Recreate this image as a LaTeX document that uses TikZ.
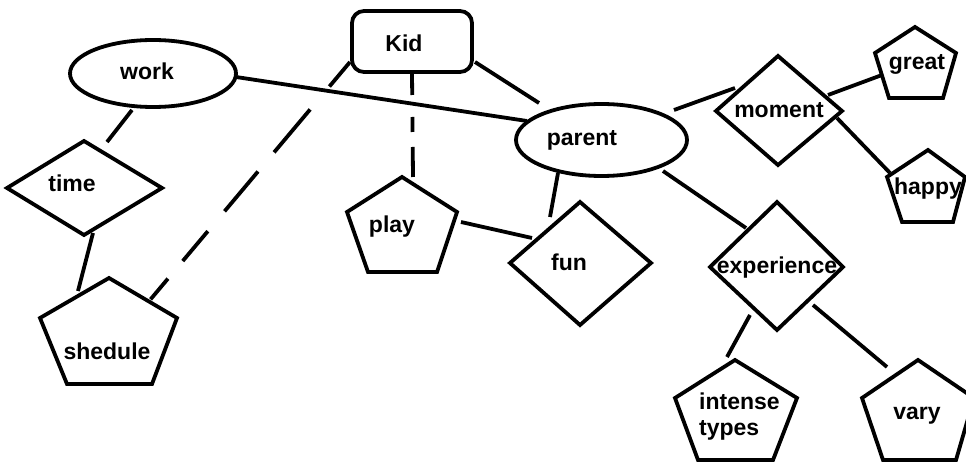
\documentclass[tikz,border=0pt]{standalone}
\usepackage{fontspec}
\setmainfont{Liberation Sans}
\begin{document}
\begin{tikzpicture}[x=1pt,y=-1pt,
  shp/.style={line width=3.8pt,line join=miter},
  conn/.style={line width=3.8pt},
  lbl/.style={font=\fontsize{23}{26}\selectfont\bfseries,inner sep=0pt,anchor=base}]
\useasboundingbox[fill=white] (0,0) rectangle (966,462);
% shapes
\draw[shp,rounded corners=12pt] (352,11) rectangle (472,72);
\draw[shp] (153,73.5) ellipse [x radius=83pt,y radius=33.5pt];
\draw[shp] (601.5,140) ellipse [x radius=85.5pt,y radius=36pt];
\draw[shp] (7,188) -- (84,141) -- (162,188) -- (84,235) -- cycle;
\draw[shp] (510,263) -- (580,202) -- (651,263) -- (580,325) -- cycle;
\draw[shp] (716,111) -- (778,56) -- (842,111) -- (778,165) -- cycle;
\draw[shp] (710,267) -- (777,202) -- (843,267) -- (777,330) -- cycle;
\draw[shp] (109,278) -- (177,318) -- (152,384) -- (67,384) -- (40,318) -- cycle;
\draw[shp] (402,177) -- (457,212) -- (437,272) -- (368,272) -- (347,212) -- cycle;
\draw[shp] (915,27) -- (956,53) -- (943,98) -- (889,98) -- (875,53) -- cycle;
\draw[shp] (928,150) -- (965,177) -- (953,222) -- (902,222) -- (887,177) -- cycle;
\draw[shp] (735,360) -- (797,398) -- (773,460) -- (698,460) -- (675,398) -- cycle;
\draw[shp] (918,360) -- (974,398) -- (956,460) -- (883,460) -- (862,398) -- cycle;
% labels
\node[lbl] (kid) at (404,52) {Kid};
\node[lbl] (work) at (147,80) {work};
\node[lbl] (time) at (72,192) {time};
\node[lbl] (shedule) at (107,359) {shedule};
\node[lbl] (play) at (392,233) {play};
\node[lbl] (fun) at (569,271) {fun};
\node[lbl] (parent) at (582,146) {parent};
\node[lbl] (moment) at (779,118) {moment};
\node[lbl] (great) at (917,70) {great};
\node[lbl] (happy) at (928,195) {happy};
\node[lbl] (experience) at (777,273) {experience};
\node[lbl,anchor=base west] (intense) at (699,409) {intense};
\node[lbl,anchor=base west] (types) at (699,435) {types};
\node[lbl] (vary) at (917,419) {vary};
% connector ends
\coordinate (wp1) at (236,77);  \coordinate (wp2) at (527,121);
\coordinate (wt1) at (132,110); \coordinate (wt2) at (107,142);
\coordinate (ts1) at (93,233);  \coordinate (ts2) at (78,291);
\coordinate (ks1) at (350,62);  \coordinate (ks2) at (150,300);
\coordinate (kp1) at (412,73);  \coordinate (kp2) at (413,177);
\coordinate (ka1) at (475,62);  \coordinate (ka2) at (539,103);
\coordinate (pf1) at (461,222); \coordinate (pf2) at (532,238);
\coordinate (af1) at (558,173); \coordinate (af2) at (550,217);
\coordinate (am1) at (674,110); \coordinate (am2) at (735,88);
\coordinate (ae1) at (663,171); \coordinate (ae2) at (746,228);
\coordinate (mg1) at (828,95);  \coordinate (mg2) at (882,75);
\coordinate (mh1) at (837,118); \coordinate (mh2) at (890,173);
\coordinate (ei1) at (750,315); \coordinate (ei2) at (727,357);
\coordinate (ev1) at (813,305); \coordinate (ev2) at (887,367);
% connectors
\draw[conn] (wp1) -- (wp2);
\draw[conn] (wt1) -- (wt2);
\draw[conn] (ts1) -- (ts2);
\draw[conn,dash pattern=on 32pt off 30pt on 56pt off 25pt on 52pt off 26pt on 39pt off 23pt on 27pt off 20pt] (ks1) -- (ks2);
\draw[conn,dash pattern=on 22pt off 22pt on 15pt off 15pt on 30pt off 10pt] (kp1) -- (kp2);
\draw[conn] (ka1) -- (ka2);
\draw[conn] (pf1) -- (pf2);
\draw[conn] (af1) -- (af2);
\draw[conn] (am1) -- (am2);
\draw[conn] (ae1) -- (ae2);
\draw[conn] (mg1) -- (mg2);
\draw[conn] (mh1) -- (mh2);
\draw[conn] (ei1) -- (ei2);
\draw[conn] (ev1) -- (ev2);
\end{tikzpicture}
\end{document}
